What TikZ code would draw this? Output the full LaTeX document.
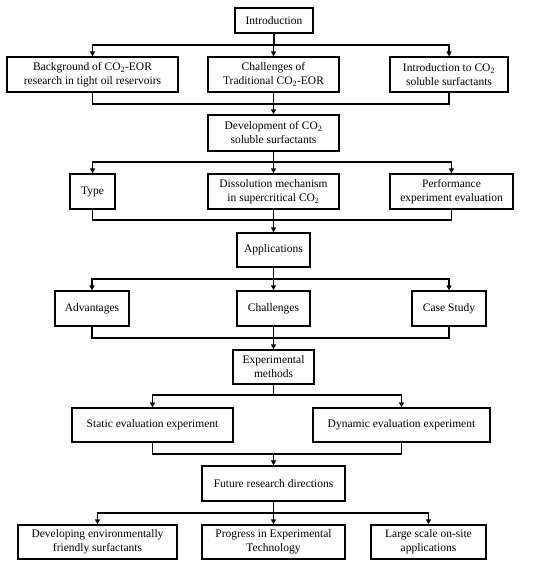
\documentclass[tikz,border=0pt]{standalone}
\usepackage{fontspec}
\setmainfont{Liberation Serif}
\usetikzlibrary{arrows.meta}
\newcommand\COtwo{CO\textsubscript{2}}
\begin{document}
\begin{tikzpicture}[x=1pt,y=-1pt,
  box/.style={draw=black,line width=1.3pt,inner sep=0pt,align=center,
    font=\fontsize{11.5}{14}\selectfont},
  ln/.style={line width=1.3pt},
  arr/.style={ln,-{Triangle[length=5pt,width=5pt]}}]
\fill[white] (0,0) rectangle (550,568);
\useasboundingbox (0,0) rectangle (550,568);
% nodes
\node[box,minimum width=78,minimum height=25] (intro) at (274,20.5) {Introduction};
\node[box,minimum width=171,minimum height=35] (bg) at (92.5,74.5) {Background of \COtwo-EOR\\research in tight oil reservoirs};
\node[box,minimum width=131,minimum height=35] (chal) at (273.5,74.5) {Challenges of\\Traditional \COtwo-EOR};
\node[box,minimum width=118,minimum height=35] (introco) at (449,74.5) {Introduction to \COtwo\\soluble surfactants};
\node[box,minimum width=131,minimum height=36] (dev) at (273.5,133) {Development of \COtwo\\soluble surfactants};
\node[box,minimum width=45,minimum height=35] (type) at (92.5,191.5) {Type};
\node[box,minimum width=131,minimum height=35] (diss) at (273.5,191.5) {Dissolution mechanism\\in supercritical \COtwo};
\node[box,minimum width=123,minimum height=35] (perf) at (451.5,191.5) {Performance\\experiment evaluation};
\node[box,minimum width=73,minimum height=34] (app) at (273.5,250) {Applications};
\node[box,minimum width=74,minimum height=35] (adv) at (92,308.5) {Advantages};
\node[box,minimum width=73,minimum height=35] (chal2) at (273.5,308.5) {Challenges};
\node[box,minimum width=74,minimum height=35] (case) at (449,308.5) {Case Study};
\node[box,minimum width=81,minimum height=34] (exp) at (273.5,367) {Experimental\\methods};
\node[box,minimum width=161,minimum height=34] (static) at (152.5,425) {Static evaluation experiment};
\node[box,minimum width=177,minimum height=34] (dyn) at (401.5,425) {Dynamic evaluation experiment};
\node[box,minimum width=143,minimum height=35] (future) at (273.5,483.5) {Future research directions};
\node[box,minimum width=159,minimum height=34] (envi) at (97.5,542) {Developing environmentally\\friendly surfactants};
\node[box,minimum width=143,minimum height=34] (prog) at (273.5,542) {Progress in Experimental\\Technology};
\node[box,minimum width=115,minimum height=34] (large) at (428.5,542) {Large scale on-site\\applications};
% split/merge levels
\coordinate (s1) at (0,45);
\coordinate (m1) at (273.5,104);
\coordinate (s2) at (0,162);
\coordinate (m2) at (273.5,220);
\coordinate (s3) at (0,279);
\coordinate (m3) at (273.5,338);
\coordinate (s4) at (0,395);
\coordinate (m4) at (273.5,454);
\coordinate (s5) at (0,513);
% level 1
\foreach \c in {bg,chal,introco}
  \draw[arr] (intro.south) -- (intro.south |- s1) -| (\c.north);
\draw[ln] (bg.south) |- (m1) -| (introco.south);
\draw[arr] (chal.south) -- (dev.north);
% level 2
\foreach \c in {type,diss,perf}
  \draw[arr] (dev.south) -- (dev.south |- s2) -| (\c.north);
\draw[ln] (type.south) |- (m2) -| (perf.south);
\draw[arr] (diss.south) -- (app.north);
% level 3
\foreach \c in {adv,chal2,case}
  \draw[arr] (app.south) -- (app.south |- s3) -| (\c.north);
\draw[ln] (adv.south) |- (m3) -| (case.south);
\draw[arr] (chal2.south) -- (exp.north);
% level 4
\foreach \c in {static,dyn}
  \draw[arr] (exp.south) -- (exp.south |- s4) -| (\c.north);
\draw[ln] (static.south) |- (m4) -| (dyn.south);
\draw[arr] (m4) -- (future.north);
% level 5
\foreach \c in {envi,prog,large}
  \draw[arr] (future.south) -- (future.south |- s5) -| (\c.north);
\end{tikzpicture}
\end{document}
